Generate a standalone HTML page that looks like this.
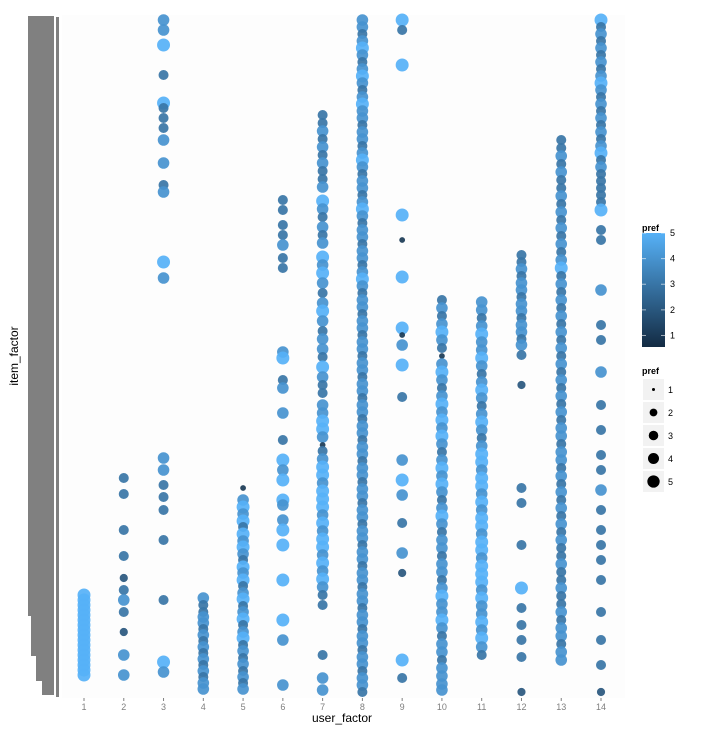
<!DOCTYPE html>
<html><head><meta charset="utf-8"><style>
html,body{margin:0;padding:0;background:#fff;}
svg{display:block;font-family:"Liberation Sans",sans-serif;}
</style></head><body>
<svg id="chart" width="712" height="738" viewBox="0 0 712 738">
<rect x="0" y="0" width="712" height="738" fill="#fff"/>
<rect x="62" y="15" width="563" height="683" fill="#fdfdfd"/>
<g fill="#808080">
<rect x="28" y="16" width="26" height="600"/>
<rect x="31" y="616" width="23" height="40"/>
<rect x="36" y="656" width="18" height="25"/>
<rect x="42" y="681" width="12" height="14"/>
<rect x="56" y="17" width="3" height="680"/>
</g>
<g id="points"></g>
<g id="xaxis"></g>
<text x="342" y="722" font-size="12" text-anchor="middle" fill="#000">user_factor</text>
<text transform="translate(18,356) rotate(-90)" font-size="12" text-anchor="middle" fill="#000">item_factor</text>
<g>
<text x="642" y="231" font-size="9" font-weight="bold">pref</text>
<defs><linearGradient id="grad" x1="0" y1="1" x2="0" y2="0"><stop offset="0" stop-color="#132B43"/><stop offset="1" stop-color="#56B1F7"/></linearGradient></defs>
<rect x="642" y="233" width="23" height="114" fill="url(#grad)"/>
<g id="cbticks"></g>
</g>
<g>
<text x="642" y="374" font-size="9" font-weight="bold">pref</text>
<g id="sizekeys"></g>
</g>
</svg>
<script>
const users = [1,2,3,4,5,6,7,8,9,10,11,12,13,14];
const u1 = [[102,5],[97,5],[92,5],[87,5],[82,5],[77,5],[72,5],[67,5],[62,5],[57,5],[52,5],[47,5],[42,5],[37,5],[32,5],[27,5],[22,5]];
const u2 = [[219,3],[203,3],[167,3],[141,3],[119,2],[107,3],[97,4],[85,3],[65,2],[42,4],[22,4]];
const u3 = [[677,4],[667,4],[652,5],[622,3],[594,5],[589,3],[579,3],[569,3],[557,4],[534,4],[512,3],[505,4],[435,5],[419,4],[239,4],[227,4],[212,3],[200,3],[187,3],[157,3],[97,3],[35,5],[25,4]];
const u4 = [[99,4],[92,3],[85,3],[80,4],[74,4],[68,3],[62,4],[56,3],[50,4],[44,3],[38,4],[32,3],[26,4],[20,3],[14,4],[8,4]];
const u5 = [[209,1],[197,4],[190,5],[183,4],[176,5],[170,3],[163,5],[156,4],[150,5],[143,4],[137,3],[130,5],[124,4],[117,5],[111,3],[104,4],[98,5],[91,3],[85,4],[78,5],[72,3],[65,4],[59,5],[52,3],[46,4],[39,3],[33,4],[26,3],[20,4],[14,3],[8,4]];
const u6 = [[497,3],[487,3],[472,3],[462,3],[452,4],[439,3],[429,3],[345,4],[339,5],[317,3],[309,4],[284,4],[257,3],[237,5],[227,4],[217,5],[197,5],[192,4],[177,4],[167,5],[152,5],[117,5],[77,5],[57,4],[12,4]];
const u7 = [[582,3],[574,3],[566,4],[558,3],[550,4],[542,3],[534,4],[526,3],[518,3],[510,4],[496,5],[488,4],[480,3],[470,4],[462,3],[454,4],[440,5],[432,4],[424,5],[414,4],[404,3],[394,4],[386,5],[376,4],[366,3],[358,4],[348,4],[340,3],[330,5],[320,4],[312,3],[304,3],[292,4],[284,4],[276,5],[268,5],[260,4],[252,1],[246,3],[238,4],[230,5],[222,5],[214,4],[206,5],[198,5],[190,5],[182,4],[174,5],[166,4],[158,5],[150,5],[142,4],[134,5],[126,4],[118,5],[110,4],[102,3],[92,3],[42,3],[19,4],[7,4]];
const u8 = [[677,4],[670,4],[663,3],[656,4],[649,5],[642,4],[635,3],[628,4],[621,5],[614,4],[607,3],[600,4],[593,5],[586,4],[579,4],[572,3],[565,4],[558,4],[551,3],[544,4],[537,5],[530,4],[523,3],[516,4],[509,4],[502,3],[495,4],[488,5],[481,4],[474,3],[467,4],[460,4],[453,3],[446,4],[439,4],[432,3],[425,4],[418,5],[411,4],[404,3],[397,4],[390,4],[383,3],[376,4],[369,4],[362,3],[355,4],[348,4],[341,3],[334,4],[327,4],[320,3],[313,4],[306,4],[299,3],[292,4],[285,4],[278,3],[271,4],[264,4],[257,3],[250,4],[243,4],[236,3],[229,4],[222,4],[215,3],[208,4],[201,4],[194,3],[187,4],[180,4],[173,3],[166,4],[159,4],[152,3],[145,4],[138,4],[131,3],[124,4],[117,4],[110,3],[103,4],[96,4],[89,3],[82,4],[75,4],[68,3],[61,4],[54,4],[47,3],[40,4],[33,4],[26,3],[19,4],[12,4],[5,3]];
const u9 = [[677,5],[667,3],[632,5],[482,5],[457,1],[420,5],[369,5],[362,1],[352,4],[332,5],[300,3],[237,4],[217,5],[202,4],[174,3],[144,4],[124,2],[37,5],[19,3]];
const u10 = [[397,3],[389,4],[381,3],[373,4],[365,5],[357,4],[349,3],[341,1],[333,4],[325,5],[317,4],[309,3],[301,4],[293,5],[285,4],[277,5],[269,4],[261,5],[253,4],[245,3],[237,4],[229,5],[221,4],[213,5],[205,4],[197,3],[189,4],[181,5],[173,4],[165,3],[157,4],[149,4],[141,3],[133,4],[125,4],[117,3],[109,4],[101,5],[93,4],[85,4],[77,5],[69,4],[61,3],[53,4],[45,4],[37,3],[29,4],[21,4],[13,4],[7,4]];
const u11 = [[395,4],[387,4],[379,3],[371,4],[363,5],[355,4],[347,4],[339,5],[331,4],[323,3],[315,4],[307,5],[299,4],[291,3],[283,4],[275,5],[267,4],[259,3],[251,4],[243,5],[235,5],[227,4],[219,5],[211,5],[203,4],[195,5],[187,4],[179,5],[171,5],[163,4],[155,5],[147,5],[139,4],[131,5],[123,5],[115,5],[107,4],[99,5],[91,4],[83,4],[75,5],[67,4],[59,5],[50,4],[42,3]];
const u12 = [[442,3],[435,3],[428,4],[421,3],[414,4],[407,4],[400,3],[393,4],[386,4],[379,3],[372,4],[365,4],[358,3],[352,4],[342,3],[312,2],[209,3],[194,3],[152,3],[109,5],[89,3],[72,3],[57,3],[40,3],[5,2]];
const u13 = [[557,3],[549,3],[541,4],[533,3],[525,4],[517,3],[509,3],[501,4],[493,3],[485,4],[477,3],[469,4],[461,3],[453,4],[445,3],[437,4],[429,5],[421,3],[413,4],[405,3],[397,4],[389,3],[381,4],[373,3],[365,4],[357,3],[349,4],[341,3],[333,4],[325,3],[317,4],[309,3],[301,4],[293,3],[285,4],[277,3],[269,4],[261,4],[253,3],[245,4],[237,4],[229,3],[221,4],[213,3],[205,4],[197,3],[189,4],[181,3],[173,4],[165,3],[157,4],[149,3],[141,3],[133,4],[125,3],[117,3],[109,4],[101,3],[93,3],[85,4],[77,3],[69,4],[61,4],[53,3],[45,4],[37,4]];
const u14 = [[677,5],[670,3],[663,4],[656,3],[649,4],[642,3],[635,4],[628,3],[621,4],[614,5],[607,4],[600,3],[593,4],[586,3],[579,4],[572,3],[565,4],[558,3],[551,4],[544,5],[537,3],[530,4],[523,3],[516,3],[509,3],[502,3],[495,3],[487,5],[467,3],[457,3],[407,4],[372,3],[357,3],[325,4],[292,3],[267,3],[242,3],[227,3],[207,4],[187,3],[167,3],[152,3],[137,3],[117,3],[85,3],[57,3],[32,3],[5,2]];
const series = [u1,u2,u3,u4,u5,u6,u7,u8,u9,u10,u11,u12,u13,u14];
const prefTicks = [1,2,3,4,5];

const NS = "http://www.w3.org/2000/svg";
const xScale = u => 84 + (u - 1) * 39.77;
const yScale = it => 697 - it;
const cbScale = p => 347 - (p - 0.55) / (5 - 0.55) * 114;
const rScale = p => Math.sqrt(p) * 2.9;
function hex(c){return [1,3,5].map(i=>parseInt(c.substr(i,2),16));}
const c0 = hex("#132B43"), c1 = hex("#56B1F7");
function colorScale(p){
  const t = Math.max(0, Math.min(1, (p - 0.55) / (5 - 0.55)));
  const c = c0.map((v,i)=>Math.round(v + (c1[i]-v)*t));
  return "rgb(" + c.join(",") + ")";
}
const gp = document.getElementById("points");
series.forEach((pts, ui) => {
  pts.forEach(([item, pref]) => {
    const c = document.createElementNS(NS, "circle");
    c.setAttribute("cx", xScale(users[ui]));
    c.setAttribute("cy", yScale(item));
    c.setAttribute("r", rScale(pref));
    c.setAttribute("fill", colorScale(pref));
    c.setAttribute("fill-opacity", "0.92");
    
    
    gp.appendChild(c);
  });
});
const gx = document.getElementById("xaxis");
users.forEach(u => {
  const l = document.createElementNS(NS, "line");
  l.setAttribute("x1", xScale(u)); l.setAttribute("x2", xScale(u));
  l.setAttribute("y1", 698); l.setAttribute("y2", 701);
  l.setAttribute("stroke", "#7f7f7f");
  
  
  gx.appendChild(l);
  const t = document.createElementNS(NS, "text");
  t.setAttribute("x", xScale(u)); t.setAttribute("y", 710);
  t.setAttribute("font-size", "9"); t.setAttribute("fill", "#7f7f7f");
  t.setAttribute("text-anchor", "middle");
  t.textContent = u;
  
  
  gx.appendChild(t);
});
const gcb = document.getElementById("cbticks");
prefTicks.forEach(p => {
  const y = cbScale(p);
  [[642,646],[661,665]].forEach(([a,b]) => {
    const l = document.createElementNS(NS, "line");
    l.setAttribute("x1", a); l.setAttribute("x2", b);
    l.setAttribute("y1", y); l.setAttribute("y2", y);
    l.setAttribute("stroke", "#fff"); l.setAttribute("stroke-opacity", "0.6");
    
    
    gcb.appendChild(l);
  });
  const t = document.createElementNS(NS, "text");
  t.setAttribute("x", 670); t.setAttribute("y", y + 3);
  t.setAttribute("font-size", "9");
  t.textContent = p;
  
  
  gcb.appendChild(t);
});
const gs = document.getElementById("sizekeys");
prefTicks.forEach((p, i) => {
  const y0 = 379 + i * 23;
  const r = document.createElementNS(NS, "rect");
  r.setAttribute("x", 643); r.setAttribute("y", y0);
  r.setAttribute("width", 21); r.setAttribute("height", 21);
  r.setAttribute("fill", "#f2f2f2");
  
  
  gs.appendChild(r);
  const c = document.createElementNS(NS, "circle");
  c.setAttribute("cx", 653.5); c.setAttribute("cy", y0 + 10.5);
  c.setAttribute("r", p === 1 ? 1.5 : rScale(p) * 0.95);
  c.setAttribute("fill", "#000");
  
  
  gs.appendChild(c);
  const t = document.createElementNS(NS, "text");
  t.setAttribute("x", 668); t.setAttribute("y", y0 + 14);
  t.setAttribute("font-size", "9");
  t.textContent = p;
  
  
  gs.appendChild(t);
});
</script>
</body></html>
